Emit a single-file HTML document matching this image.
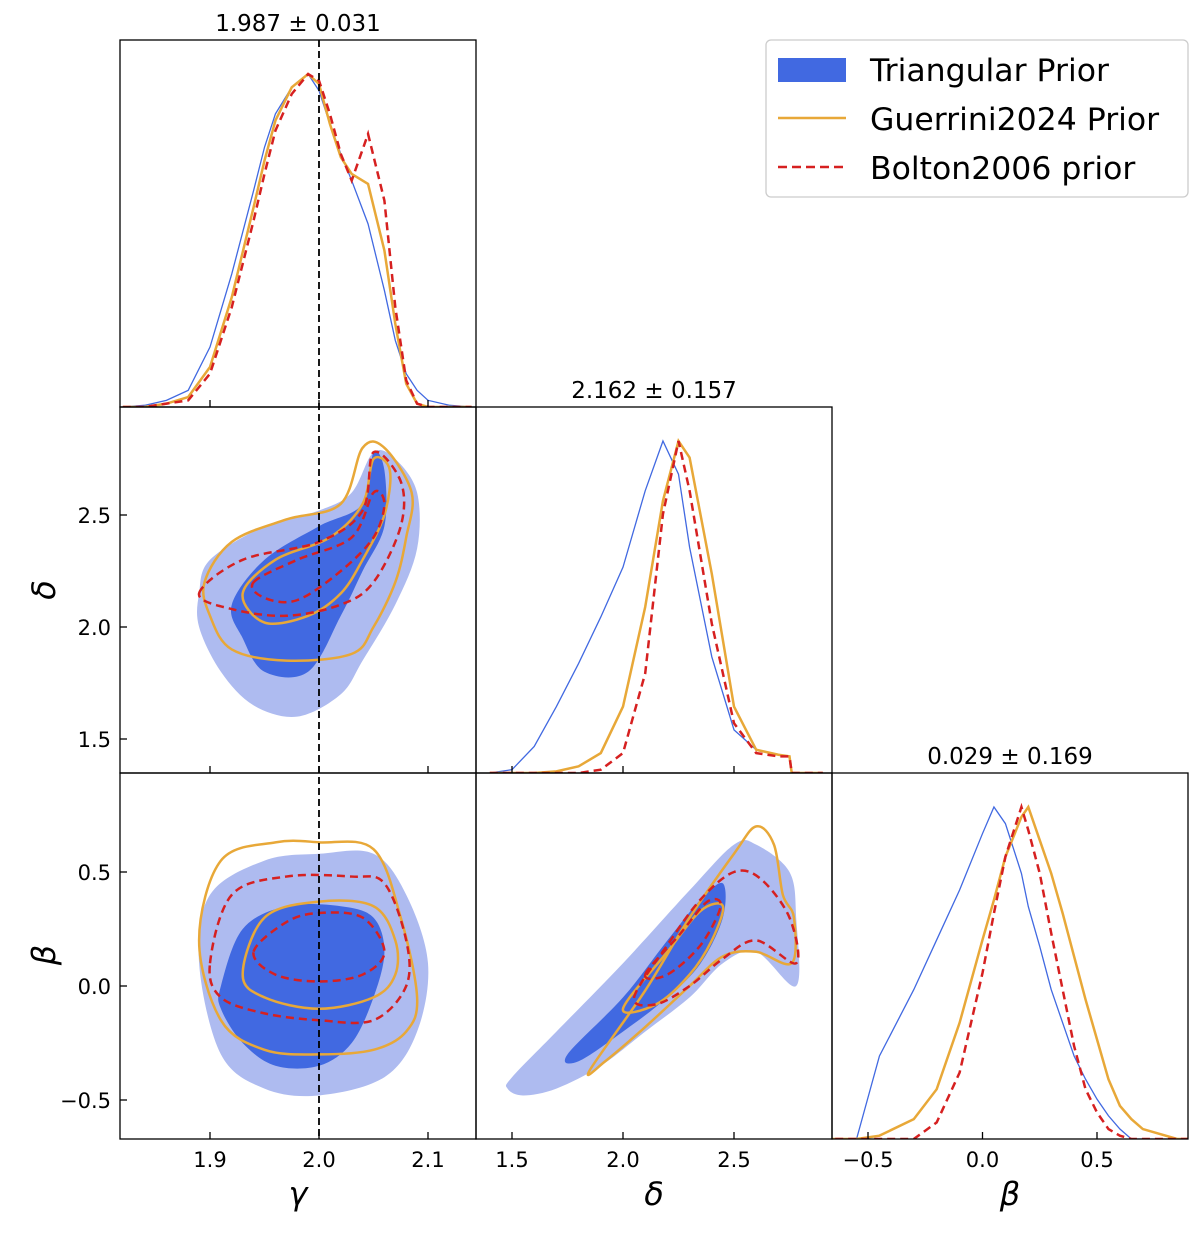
<!DOCTYPE html>
<html><head><meta charset="utf-8"><style>
body{margin:0;background:#fff;}
svg text{font-family:"DejaVu Sans","Liberation Sans",sans-serif;}
</style></head><body>
<svg id="c" width="1200" height="1230" xmlns="http://www.w3.org/2000/svg"></svg>
<script>
// ---------- data ----------
const gammaX=[1.82,1.84,1.86,1.88,1.9,1.92,1.94,1.95,1.96,1.975,1.99,2.0,2.01,2.02,2.03,2.045,2.06,2.07,2.08,2.09,2.1,2.12,2.14];
const gammaBlue=[0,0.005,0.02,0.05,0.18,0.4,0.65,0.78,0.88,0.96,1.0,0.95,0.85,0.76,0.68,0.55,0.35,0.2,0.1,0.05,0.02,0.005,0];
const gammaOrange=[0,0,0.01,0.03,0.12,0.33,0.6,0.74,0.86,0.96,1.0,0.97,0.85,0.75,0.7,0.67,0.47,0.25,0.07,0.01,0,0,0];
const gammaRed=[0,0,0.01,0.02,0.1,0.3,0.56,0.7,0.83,0.94,1.0,0.98,0.88,0.76,0.68,0.82,0.62,0.3,0.08,0.01,0,0,0];
const deltaX=[1.4,1.5,1.6,1.7,1.8,1.9,2.0,2.1,2.18,2.25,2.3,2.4,2.5,2.6,2.7,2.75,2.76,2.9];
const deltaBlue=[0,0.01,0.08,0.2,0.33,0.47,0.62,0.85,1.0,0.9,0.68,0.35,0.13,0.07,0.055,0.05,0,0];
const deltaOrange=[0,0,0,0.005,0.02,0.06,0.2,0.5,0.82,1.0,0.95,0.6,0.2,0.07,0.055,0.05,0,0];
const deltaRed=[0,0,0,0,0,0.01,0.06,0.3,0.78,1.0,0.85,0.45,0.15,0.06,0.05,0.05,0,0];
const betaX=[-0.7,-0.55,-0.45,-0.3,-0.2,-0.1,0.0,0.05,0.1,0.17,0.2,0.25,0.3,0.35,0.4,0.45,0.5,0.55,0.6,0.65,0.7,0.85,0.95];
const betaBlue=[0,0,0.25,0.45,0.6,0.75,0.92,1.0,0.95,0.8,0.7,0.58,0.45,0.35,0.25,0.18,0.12,0.07,0.03,0,0,0,0];
const betaOrange=[0,0,0.01,0.06,0.15,0.35,0.6,0.72,0.85,0.97,1.0,0.9,0.8,0.68,0.55,0.42,0.3,0.18,0.1,0.06,0.03,0,0];
const betaRed=[0,0,0,0,0.05,0.2,0.5,0.68,0.85,1.0,0.93,0.8,0.62,0.45,0.28,0.15,0.08,0.03,0.01,0,0,0,0];
// contours [x,y] in data coords
const gdLight=[[1.89,2.15],[1.9,2.3],[1.95,2.45],[2.0,2.52],[2.03,2.6],[2.05,2.78],[2.07,2.75],[2.09,2.6],[2.09,2.35],[2.07,2.1],[2.04,1.85],[2.02,1.7],[1.98,1.6],[1.94,1.65],[1.91,1.8],[1.89,2.0]];
const gdDark=[[1.92,2.1],[1.95,2.3],[2.0,2.45],[2.04,2.55],[2.05,2.78],[2.06,2.7],[2.06,2.45],[2.04,2.25],[2.02,2.05],[1.99,1.8],[1.95,1.8],[1.93,1.95]];
const gdOrange1=[[1.895,2.2],[1.92,2.38],[1.97,2.48],[2.02,2.55],[2.04,2.8],[2.06,2.8],[2.085,2.6],[2.08,2.4],[2.07,2.2],[2.05,2.0],[2.03,1.88],[1.97,1.85],[1.92,1.9],[1.9,2.05]];
const gdOrange2=[[1.93,2.15],[1.96,2.3],[2.01,2.4],[2.04,2.55],[2.05,2.75],[2.065,2.7],[2.06,2.5],[2.04,2.3],[2.02,2.15],[1.99,2.05],[1.95,2.02]];
const gdRed1=[[1.89,2.15],[1.93,2.3],[2.0,2.38],[2.04,2.52],[2.05,2.78],[2.075,2.65],[2.075,2.45],[2.05,2.2],[2.02,2.1],[1.97,2.05],[1.92,2.08]];
const gdRed2=[[1.94,2.2],[1.98,2.3],[2.03,2.4],[2.05,2.6],[2.06,2.55],[2.05,2.4],[2.02,2.25],[1.98,2.12],[1.95,2.13]];
const gbLight=[[1.89,0.1],[1.9,0.4],[1.95,0.55],[2.0,0.58],[2.05,0.58],[2.08,0.4],[2.1,0.1],[2.09,-0.2],[2.06,-0.4],[2.0,-0.48],[1.95,-0.45],[1.91,-0.3]];
const gbDark=[[1.91,0.0],[1.93,0.25],[1.97,0.35],[2.02,0.35],[2.05,0.3],[2.06,0.15],[2.05,-0.05],[2.03,-0.25],[2.0,-0.35],[1.96,-0.35],[1.93,-0.25],[1.91,-0.1]];
const gbOrange1=[[1.89,0.2],[1.91,0.55],[1.96,0.63],[2.0,0.63],[2.05,0.6],[2.075,0.3],[2.09,-0.05],[2.08,-0.2],[2.05,-0.28],[2.0,-0.3],[1.95,-0.28],[1.91,-0.15]];
const gbOrange2=[[1.93,0.05],[1.95,0.3],[2.0,0.37],[2.05,0.35],[2.07,0.2],[2.07,0.05],[2.05,-0.05],[2.0,-0.1],[1.95,-0.05]];
const gbRed1=[[1.9,0.1],[1.92,0.4],[1.97,0.48],[2.03,0.48],[2.06,0.45],[2.08,0.2],[2.08,0.0],[2.05,-0.15],[2.0,-0.15],[1.95,-0.12],[1.91,-0.05]];
const gbRed2=[[1.94,0.15],[1.97,0.28],[2.0,0.32],[2.04,0.3],[2.06,0.15],[2.04,0.05],[2.0,0.02],[1.96,0.05]];
const dbLight=[[1.48,-0.45],[1.5,-0.4],[1.7,-0.2],[2.0,0.1],[2.3,0.42],[2.5,0.62],[2.6,0.62],[2.75,0.5],[2.78,0.3],[2.78,0.0],[2.6,0.15],[2.45,0.1],[2.3,-0.05],[2.1,-0.2],[1.9,-0.35],[1.7,-0.45],[1.55,-0.48]];
const dbDark=[[1.75,-0.3],[2.0,-0.05],[2.2,0.2],[2.35,0.38],[2.45,0.45],[2.45,0.3],[2.35,0.1],[2.2,-0.05],[2.0,-0.2],[1.8,-0.33]];
const dbOrange1=[[1.85,-0.37],[2.1,-0.02],[2.3,0.3],[2.5,0.58],[2.6,0.7],[2.68,0.62],[2.72,0.4],[2.77,0.3],[2.76,0.1],[2.6,0.15],[2.45,0.13],[2.3,0.0],[2.1,-0.18],[1.92,-0.33]];
const dbOrange2=[[2.0,-0.1],[2.2,0.15],[2.35,0.33],[2.45,0.35],[2.4,0.2],[2.3,0.05],[2.15,-0.08]];
const dbRed1=[[2.05,-0.05],[2.2,0.18],[2.35,0.38],[2.5,0.5],[2.62,0.47],[2.75,0.3],[2.78,0.1],[2.6,0.2],[2.45,0.12],[2.3,0.0],[2.15,-0.08]];
const dbRed2=[[2.1,0.05],[2.25,0.22],[2.38,0.37],[2.44,0.35],[2.35,0.18],[2.2,0.05]];
const gammaTicks=[1.9,2.0,2.1];
const deltaTicks=[1.5,2.0,2.5];
const betaTicks=[-0.5,0.0,0.5];
const titles=["1.987 ± 0.031","2.162 ± 0.157","0.029 ± 0.169"];
// ---------- axes ----------
const C=["#4169e1","#e8a838","#d62020"], LIGHT="#aebbf0";
const lin=(d0,d1,p0,p1)=>v=>p0+(v-d0)/(d1-d0)*(p1-p0);
const col=[[120,476],[476,832],[832,1188]], row=[[40,407],[407,773],[773,1139]];
const gx=lin(1.9,2.1,210,428), dx=lin(1.5,2.5,512,734), bx=lin(-0.5,0.5,868,1097);
const dy=lin(2.5,1.5,515,739), by=lin(0.5,-0.5,872,1100);
const NS="http://www.w3.org/2000/svg", svg=document.getElementById('c');
function el(t,a,p){const e=document.createElementNS(NS,t);for(const k in a)e.setAttribute(k,a[k]);(p||svg).appendChild(e);return e;}
function smooth(pts){let d="";const n=pts.length;for(let i=0;i<n;i++){const p0=pts[(i-1+n)%n],p1=pts[i],p2=pts[(i+1)%n],p3=pts[(i+2)%n];
 if(i===0)d+="M"+p1[0]+","+p1[1];
 d+=`C${p1[0]+(p2[0]-p0[0])/6},${p1[1]+(p2[1]-p0[1])/6} ${p2[0]-(p3[0]-p1[0])/6},${p2[1]-(p3[1]-p1[1])/6} ${p2[0]},${p2[1]}`;}return d+"Z";}
function clip(id,c,r){const cp=el('clipPath',{id});el('rect',{x:c[0],y:r[0],width:c[1]-c[0],height:r[1]-r[0]},cp);}
clip('k0',col[0],row[0]);clip('k1',col[1],row[1]);clip('k2',col[2],row[2]);clip('k3',col[0],row[1]);clip('k4',col[0],row[2]);clip('k5',col[1],row[2]);
function hist(xs,ys,fx,r,color,dash,w,name,cid){const h=r[1]-r[0]-34;
 const pts=xs.map((x,i)=>[fx(x),r[1]-ys[i]*h]);
 const p=el('path',{d:"M"+pts.map(p=>p.join(",")).join("L"),fill:"none",stroke:color,"stroke-width":w,"stroke-dasharray":dash||"none","clip-path":`url(#${cid})`});
 
 }
function cont(arr,fx,fy,fill,stroke,dash,name,cid){const pts=arr.map(p=>[fx(p[0]),fy(p[1])]);
 const p=el('path',{d:smooth(pts),fill:fill||"none",stroke:stroke||"none","stroke-width":2.5,"stroke-dasharray":dash||"none","clip-path":`url(#${cid})`});
 
 }
// marginals
hist(gammaX,gammaBlue,gx,row[0],C[0],null,1.3,'gamma-hist-triangular','k0');
hist(gammaX,gammaOrange,gx,row[0],C[1],null,2.5,'gamma-hist-guerrini','k0');
hist(gammaX,gammaRed,gx,row[0],C[2],"8,5",2.5,'gamma-hist-bolton','k0');
hist(deltaX,deltaBlue,dx,row[1],C[0],null,1.3,'delta-hist-triangular','k1');
hist(deltaX,deltaOrange,dx,row[1],C[1],null,2.5,'delta-hist-guerrini','k1');
hist(deltaX,deltaRed,dx,row[1],C[2],"8,5",2.5,'delta-hist-bolton','k1');
hist(betaX,betaBlue,bx,row[2],C[0],null,1.3,'beta-hist-triangular','k2');
hist(betaX,betaOrange,bx,row[2],C[1],null,2.5,'beta-hist-guerrini','k2');
hist(betaX,betaRed,bx,row[2],C[2],"8,5",2.5,'beta-hist-bolton','k2');
// contours
[[gdLight,gdDark,gdOrange1,gdOrange2,gdRed1,gdRed2,gx,dy,'k3','gamma-delta'],
 [gbLight,gbDark,gbOrange1,gbOrange2,gbRed1,gbRed2,gx,by,'k4','gamma-beta'],
 [dbLight,dbDark,dbOrange1,dbOrange2,dbRed1,dbRed2,dx,by,'k5','delta-beta']].forEach(s=>{
 cont(s[0],s[6],s[7],LIGHT,null,null,s[9]+'-outer-fill',s[8]);
 cont(s[1],s[6],s[7],C[0],null,null,s[9]+'-inner-fill',s[8]);
 cont(s[2],s[6],s[7],null,C[1],null,s[9]+'-guerrini-outer',s[8]);
 cont(s[3],s[6],s[7],null,C[1],null,s[9]+'-guerrini-inner',s[8]);
 cont(s[4],s[6],s[7],null,C[2],"8,5",s[9]+'-bolton-outer',s[8]);
 cont(s[5],s[6],s[7],null,C[2],"8,5",s[9]+'-bolton-inner',s[8]);});
// truth line
const tl=el('line',{x1:gx(2.0),x2:gx(2.0),y1:40,y2:1139,stroke:"#000","stroke-width":1.8,"stroke-dasharray":"7,4"});


// frames & ticks
const panels=[[0,0],[0,1],[1,1],[0,2],[1,2],[2,2]];
panels.forEach(([c,r])=>{const f=el('rect',{x:col[c][0],y:row[r][0],width:356,height:row[r][1]-row[r][0],fill:"none",stroke:"#000","stroke-width":1.3});
 
 });
function xt(ticks,fx,r,c,label){ticks.forEach(t=>{const x=fx(t);el('line',{x1:x,x2:x,y1:r-7,y2:r,stroke:"#000","stroke-width":1.3});
 if(label){const tx=el('text',{x:x,y:r+28,"text-anchor":"middle","font-size":21});tx.textContent=t.toFixed(1).replace('-','−');
 
 }});}
function yt(ticks,fy,c){ticks.forEach(t=>{const y=fy(t);el('line',{x1:c,x2:c+7,y1:y,y2:y,stroke:"#000","stroke-width":1.3});
 const tx=el('text',{x:c-9,y:y+8,"text-anchor":"end","font-size":21});tx.textContent=t.toFixed(1).replace('-','−');
 
 });}
xt(gammaTicks,gx,407,0,false);xt(gammaTicks,gx,773,0,false);xt(gammaTicks,gx,1139,0,true);
xt(deltaTicks,dx,773,1,false);xt(deltaTicks,dx,1139,1,true);xt(betaTicks,bx,1139,2,true);
yt(deltaTicks,dy,120);yt(betaTicks,by,120);
// titles & labels
[[298,31],[654,398],[1010,764]].forEach((p,i)=>{const t=el('text',{x:p[0],y:p[1],"text-anchor":"middle","font-size":23});t.textContent=titles[i];
 
 });
[["γ",298,1205,0],["δ",654,1205,0],["β",1010,1205,0],["δ",55,590,-90],["β",55,955,-90]].forEach(a=>{
 const t=el('text',{x:a[1],y:a[2],"text-anchor":"middle","font-size":32,"font-style":"italic",transform:a[3]?`rotate(-90 ${a[1]} ${a[2]})`:""});
 t.textContent=a[0];
 
 });
// legend
const lg=el('g',{});
el('rect',{x:766,y:40,width:422,height:157,rx:5,fill:"#fff",stroke:"#ccc","stroke-width":1.3},lg);
el('rect',{x:778,y:58,width:68,height:24,fill:C[0]},lg);
el('line',{x1:778,x2:846,y1:118,y2:118,stroke:C[1],"stroke-width":2.5},lg);
el('line',{x1:778,x2:846,y1:167,y2:167,stroke:C[2],"stroke-width":2.5,"stroke-dasharray":"9,5"},lg);
["Triangular Prior","Guerrini2024 Prior","Bolton2006 prior"].forEach((s,i)=>{const t=el('text',{x:870,y:81+i*49,"font-size":31.5},lg);t.textContent=s;
 
 });
</script>
</body></html>
